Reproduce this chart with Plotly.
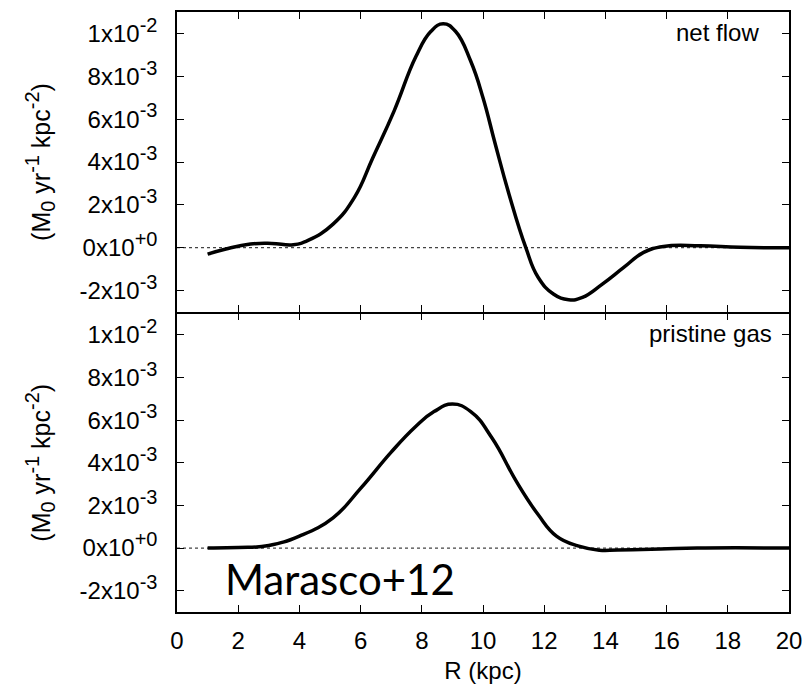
import plotly.graph_objects as go

# Net flow (Msun yr^-1 kpc^-2) vs R (kpc)
r_net = [1.0, 1.6, 2.4, 3.1, 3.8, 4.3, 5.1, 5.8, 6.4, 7.1, 7.8, 8.3, 8.7, 9.1, 9.6, 10.0,
         10.4, 10.85, 11.4, 11.8, 12.3, 12.8, 13.25, 13.9, 14.6, 15.25, 15.9, 17.1, 18.4, 20.0]
net_flow = [-0.30e-3, -0.06e-3, 0.17e-3, 0.20e-3, 0.14e-3, 0.35e-3, 1.1e-3, 2.35e-3, 4.2e-3,
            6.4e-3, 8.9e-3, 10.1e-3, 10.45e-3, 10.1e-3, 8.7e-3, 7.0e-3, 4.84e-3, 2.5e-3, 0.0,
            -1.38e-3, -2.16e-3, -2.43e-3, -2.32e-3, -1.7e-3, -0.92e-3, -0.22e-3, 0.06e-3,
            0.09e-3, 0.02e-3, 0.0]

# Pristine gas
r_pr = [1.0, 2.0, 3.0, 4.0, 5.1, 6.0, 7.0, 7.8, 8.4, 9.0, 9.6, 10.3, 11.1, 11.8, 12.4, 13.1,
        13.8, 14.4, 15.8, 17.0, 20.0]
pristine = [0.0, 0.02e-3, 0.12e-3, 0.56e-3, 1.42e-3, 2.8e-3, 4.5e-3, 5.7e-3, 6.4e-3, 6.75e-3,
            6.4e-3, 5.15e-3, 3.1e-3, 1.57e-3, 0.56e-3, 0.1e-3, -0.1e-3, -0.09e-3, -0.05e-3,
            0.0, 0.0]

y_tickvals = [-2e-3, 0, 2e-3, 4e-3, 6e-3, 8e-3, 1e-2]
y_mant = ["-2", "0", "2", "4", "6", "8", "1"]
y_exp = ["-3", "+0", "-3", "-3", "-3", "-3", "-2"]
x_tickvals = [0, 2, 4, 6, 8, 10, 12, 14, 16, 18, 20]
y_range = [-3e-3, 1.1e-2]
x_range = [0, 20]

FONT = "Liberation Sans, Arial, sans-serif"
LW = 1.5
SUP = '<span style="font-size:20px">{}</span>'


def sup(t):
    return "<sup>" + SUP.format(t) + "</sup>"


def sub(t):
    return "<sub>" + SUP.format(t) + "</sub>"


y_ticktext = [m + "x10" + sup(e) for m, e in zip(y_mant, y_exp)]

fig = go.Figure()

panels = [("x", "y", r_net, net_flow), ("x2", "y2", r_pr, pristine)]
for xa, ya, xs, ys in panels:
    fig.add_trace(go.Scatter(x=x_range, y=[0, 0], mode="lines", xaxis=xa, yaxis=ya,
                             line=dict(color="#444", width=1.2, dash="dot"),
                             showlegend=False, hoverinfo="skip"))
    fig.add_trace(go.Scatter(x=xs, y=ys, mode="lines", xaxis=xa, yaxis=ya,
                             line=dict(color="black", width=3.5, shape="spline", smoothing=1.3),
                             showlegend=False))

axis_common = dict(showline=True, linecolor="black", linewidth=LW, mirror="ticks",
                   ticks="inside", ticklen=7, tickcolor="black", tickwidth=1.2,
                   showgrid=False, zeroline=False, automargin=False,
                   tickfont=dict(family=FONT, size=24, color="black"))

ytitle = dict(text="(M" + sub("0") + " yr" + sup("-1") + " kpc" + sup("-2") + ")",
              font=dict(family=FONT, size=25, color="black"), standoff=22)

split = 0.5
gap = LW / 600.0

fig.update_layout(
    xaxis=dict(domain=[0, 1], range=x_range, tickvals=x_tickvals, showticklabels=False,
               anchor="y", **axis_common),
    yaxis=dict(domain=[split, 1], range=y_range, tickvals=y_tickvals, ticktext=y_ticktext,
               anchor="x", title=ytitle, ticklabelstandoff=13, **axis_common),
    xaxis2=dict(domain=[0, 1], range=x_range, tickvals=x_tickvals, anchor="y2",
                ticklabelstandoff=6,
                title=dict(text="R (kpc)", font=dict(family=FONT, size=24, color="black"),
                           standoff=10), **axis_common),
    yaxis2=dict(domain=[0, split - gap], range=y_range, tickvals=y_tickvals,
                ticktext=y_ticktext, anchor="x2", title=ytitle, ticklabelstandoff=13,
                **axis_common),
)

fig.add_annotation(text="net flow", xref="x domain", yref="y domain", x=0.955, y=0.985,
                   xanchor="right", yanchor="top", showarrow=False,
                   font=dict(family=FONT, size=24, color="black"))
fig.add_annotation(text="pristine gas", xref="x2 domain", yref="y2 domain", x=0.976, y=0.985,
                   xanchor="right", yanchor="top", showarrow=False,
                   font=dict(family=FONT, size=24, color="black"))
fig.add_annotation(text="Marasco+12", xref="x2 domain", yref="y2 domain", x=0.075, y=0.02,
                   xanchor="left", yanchor="bottom", showarrow=False,
                   font=dict(family="Lato, Open Sans, sans-serif", size=42, color="black"))

fig.update_layout(width=810, height=695, margin=dict(l=177, r=21, t=12, b=83),
                  plot_bgcolor="white", paper_bgcolor="white")

fig.write_html("out.html")
